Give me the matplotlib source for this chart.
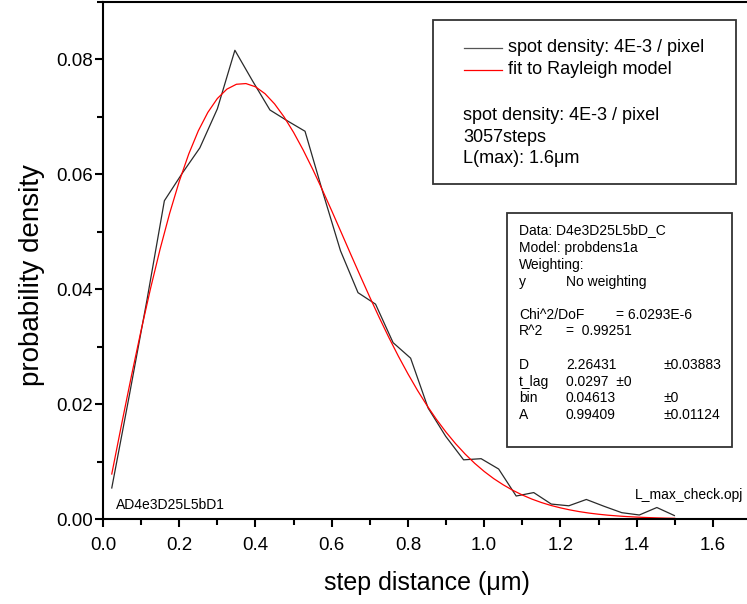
import matplotlib
matplotlib.use("Agg")
import matplotlib.pyplot as plt
from matplotlib.ticker import MultipleLocator, FormatStrFormatter
from matplotlib.lines import Line2D
from matplotlib.patches import Rectangle

plt.rcParams['font.family'] = ['Liberation Sans', 'DejaVu Sans']

# measured histogram (black)
step_x = [0.023, 0.069, 0.115, 0.161, 0.208, 0.254, 0.300, 0.346, 0.392, 0.438,
          0.484, 0.530, 0.577, 0.623, 0.669, 0.715, 0.761, 0.807, 0.853, 0.899,
          0.946, 0.992, 1.038, 1.084, 1.130, 1.176, 1.222, 1.268, 1.315, 1.361,
          1.407, 1.453, 1.499]
density = [0.0054, 0.0215, 0.0380, 0.0554, 0.0602, 0.0646, 0.0714, 0.0816, 0.0763, 0.0712,
           0.0693, 0.0675, 0.0568, 0.0467, 0.0394, 0.0374, 0.0307, 0.0280, 0.0193, 0.0144,
           0.0103, 0.0105, 0.0087, 0.0040, 0.0046, 0.0026, 0.0023, 0.0034, 0.0022, 0.0011,
           0.0007, 0.0020, 0.0006]

# fitted Rayleigh curve (red)
fit_x = [0.023, 0.05, 0.075, 0.1, 0.125, 0.15, 0.175, 0.2, 0.225, 0.25, 0.275, 0.3,
         0.325, 0.35, 0.375, 0.4, 0.425, 0.45, 0.475, 0.5, 0.525, 0.55, 0.575, 0.6,
         0.625, 0.65, 0.675, 0.7, 0.725, 0.75, 0.775, 0.8, 0.825, 0.85, 0.875, 0.9,
         0.925, 0.95, 0.975, 1.0, 1.025, 1.05, 1.075, 1.1, 1.125, 1.15, 1.175, 1.2,
         1.225, 1.25, 1.275, 1.3, 1.325, 1.35, 1.375, 1.4, 1.425, 1.45, 1.475, 1.5]
fit_y = [0.00783, 0.01689, 0.02504, 0.03285, 0.04021, 0.04704, 0.05325, 0.05877,
         0.06355, 0.06757, 0.07078, 0.07320, 0.07483, 0.07568, 0.07580, 0.07524,
         0.07404, 0.07227, 0.07000, 0.06730, 0.06425, 0.06091, 0.05736, 0.05366,
         0.04988, 0.04607, 0.04231, 0.03861, 0.03503, 0.03159, 0.02833, 0.02527,
         0.02240, 0.01975, 0.01732, 0.01511, 0.01311, 0.01131, 0.00970, 0.00828,
         0.00703, 0.00595, 0.00500, 0.00418, 0.00347, 0.00287, 0.00236, 0.00194,
         0.00158, 0.00128, 0.00103, 0.00083, 0.00066, 0.00053, 0.00042, 0.00033,
         0.00026, 0.00020, 0.00015, 0.00012]

legend_labels = ["spot density: 4E-3 / pixel", "fit to Rayleigh model"]
info_lines = ["spot density: 4E-3 / pixel", "3057steps", "L(max): 1.6\u03bcm"]

fig = plt.figure(figsize=(7.47, 6.04), dpi=100)
W, H = 747.0, 604.0
ax = fig.add_axes([103 / W, (H - 519) / H, 648 / W, 517 / H])

ax.plot(step_x, density, color='#2a2a2a', lw=0.9)
ax.plot(fit_x, fit_y, color='red', lw=0.9)

ax.set_xlim(0, 1.7)
ax.set_ylim(0, 0.09)
ax.xaxis.set_major_locator(MultipleLocator(0.2))
ax.xaxis.set_minor_locator(MultipleLocator(0.1))
ax.yaxis.set_major_locator(MultipleLocator(0.02))
ax.yaxis.set_minor_locator(MultipleLocator(0.01))
ax.xaxis.set_major_formatter(FormatStrFormatter('%.1f'))
ax.yaxis.set_major_formatter(FormatStrFormatter('%.2f'))
ax.tick_params(which='major', direction='out', length=6, width=1.5, labelsize=13.5)
ax.tick_params(which='minor', direction='out', length=4, width=1.5)
ax.tick_params(axis='x', which='major', pad=7)
ax.tick_params(axis='y', which='major', pad=1.5)
for s in ax.spines.values():
    s.set_linewidth(1.5)
ax.spines['right'].set_visible(False)

ax.set_xlabel("step distance (\u03bcm)", fontsize=18, labelpad=12)
ax.set_ylabel("probability density", fontsize=20)
ax.yaxis.set_label_coords(-(103 - 45) / 648, (519 - 275) / 517)

def px(x, y):
    return x / W, 1 - y / H

# legend box
fig.patches.append(Rectangle(px(433, 184), (736 - 433) / W, (184 - 20) / H,
                             transform=fig.transFigure, fill=False, ec='#333333', lw=1.3))
colors = ['#555555', 'red']
for i, (lab, c) in enumerate(zip(legend_labels, colors)):
    y = 47.5 + i * 22
    fig.lines.append(Line2D([464 / W, 502 / W], [1 - y / H, 1 - y / H],
                            transform=fig.transFigure, color=c, lw=0.9))
    fig.text(508 / W, 1 - y / H, lab, fontsize=13, va='center', ha='left')
for i, t in enumerate(info_lines):
    y = 115.5 + i * 21.5
    fig.text(463 / W, 1 - y / H, t, fontsize=13, va='center', ha='left')

# stats box
fig.patches.append(Rectangle(px(507, 447), (732 - 507) / W, (447 - 213) / H,
                             transform=fig.transFigure, fill=False, ec='#333333', lw=1.3))
stats = [
    (230, [(519, "Data: D4e3D25L5bD_C")]),
    (248, [(519, "Model: probdens1a")]),
    (265, [(519, "Weighting:")]),
    (282, [(519, "y"), (566, "No weighting")]),
    (315, [(519, "Chi^2/DoF"), (616, "= 6.0293E-6")]),
    (331, [(519, "R^2"), (566, "=  0.99251")]),
    (365, [(519, "D"), (566, "2.26431"), (663, "\u00b10.03883")]),
    (382, [(519, "t_lag"), (566, "0.0297  \u00b10")]),
    (398, [(519, "bin"), (566, "0.04613"), (663, "\u00b10")]),
    (415, [(519, "A"), (566, "0.99409"), (663, "\u00b10.01124")]),
]
for y, parts in stats:
    for x, t in parts:
        fig.text(x / W, 1 - y / H, t, fontsize=10, va='center', ha='left')

fig.text(116 / W, 1 - 505 / H, "AD4e3D25L5bD1", fontsize=10, va='center', ha='left')
fig.text(635 / W, 1 - 495 / H, "L_max_check.opj", fontsize=10, va='center', ha='left')

fig.savefig("out.png", dpi=100)
